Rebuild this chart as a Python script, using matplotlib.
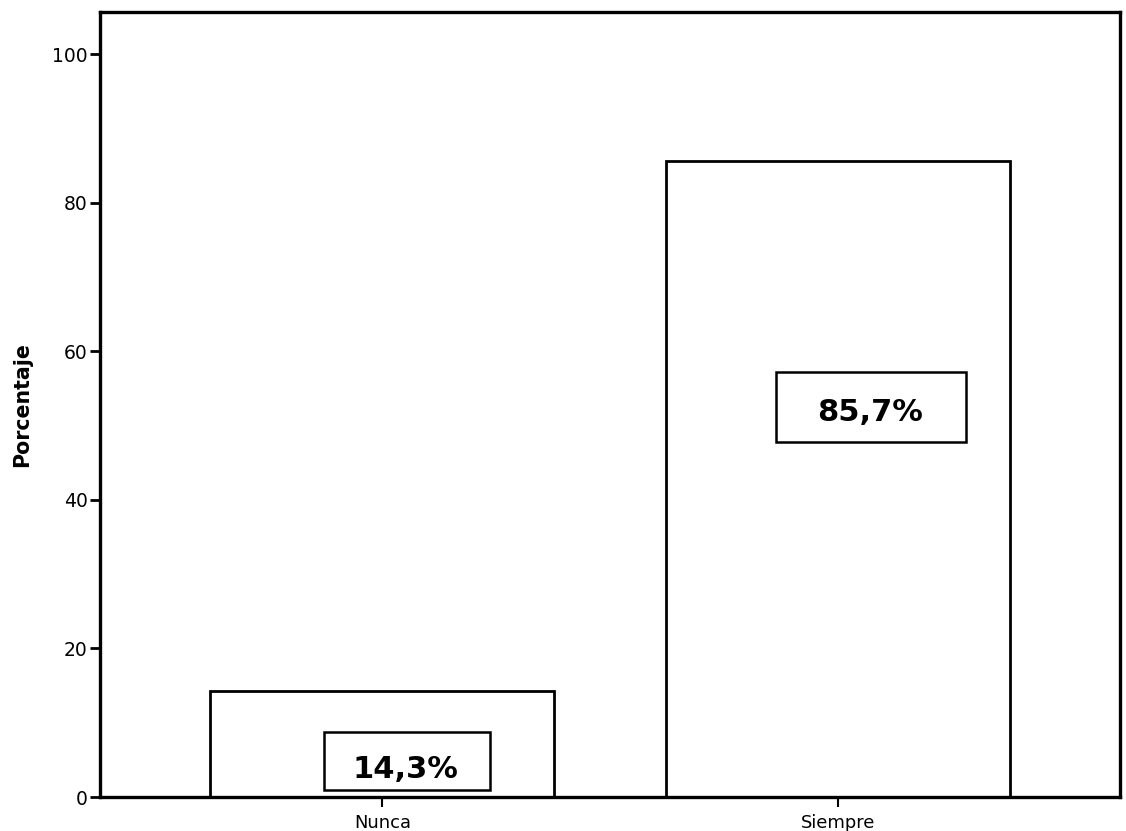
import matplotlib
matplotlib.use("Agg")
import matplotlib.pyplot as plt
from matplotlib.patches import Rectangle

# Response categories and their percentages
categories = ["Nunca", "Siempre"]
percentages = [14.3, 85.7]
value_labels = ["14,3%", "85,7%"]
y_ticks = [0, 20, 40, 60, 80, 100]

plt.rcParams["font.family"] = ["DejaVu Sans"]

fig = plt.figure(figsize=(11.26, 8.31), dpi=100)
ax = fig.add_axes([0.0888, 0.0409, 0.9059, 0.9447])

x = list(range(len(categories)))
ax.bar(x, percentages, width=0.755, color="white", edgecolor="black",
       linewidth=2.0, zorder=2)

ax.set_xlim(-0.62, 1.62)
ax.set_ylim(0, 105.7)
ax.set_yticks(y_ticks)
ax.set_yticklabels([str(t) for t in y_ticks], fontsize=13.5)
ax.set_xticks(x)
ax.set_xticklabels(categories, fontsize=12.9)
ax.tick_params(axis="y", length=7, width=2, pad=2)
ax.tick_params(axis="x", length=7, width=1.5, pad=5)
for side in ax.spines.values():
    side.set_linewidth(2.4)

ax.set_ylabel("Porcentaje", fontsize=14.8, fontweight="bold", labelpad=14)

# Boxed value labels: (box centre x, box centre y, box width, box height,
# text x, text baseline y)
label_layout = [
    (0.055, 4.85, 0.365, 7.8, 0.051, 2.6),
    (1.073, 52.5, 0.418, 9.4, 1.070, 50.6),
]
for (bx, by, bw, bh, tx, ty), txt in zip(label_layout, value_labels):
    ax.add_patch(Rectangle((bx - bw / 2, by - bh / 2), bw, bh,
                           facecolor="white", edgecolor="black",
                           linewidth=1.8, zorder=3))
    ax.text(tx, ty, txt, ha="center", va="baseline", fontsize=22,
            fontweight="bold", zorder=4)

fig.savefig("out.png", dpi=100)
